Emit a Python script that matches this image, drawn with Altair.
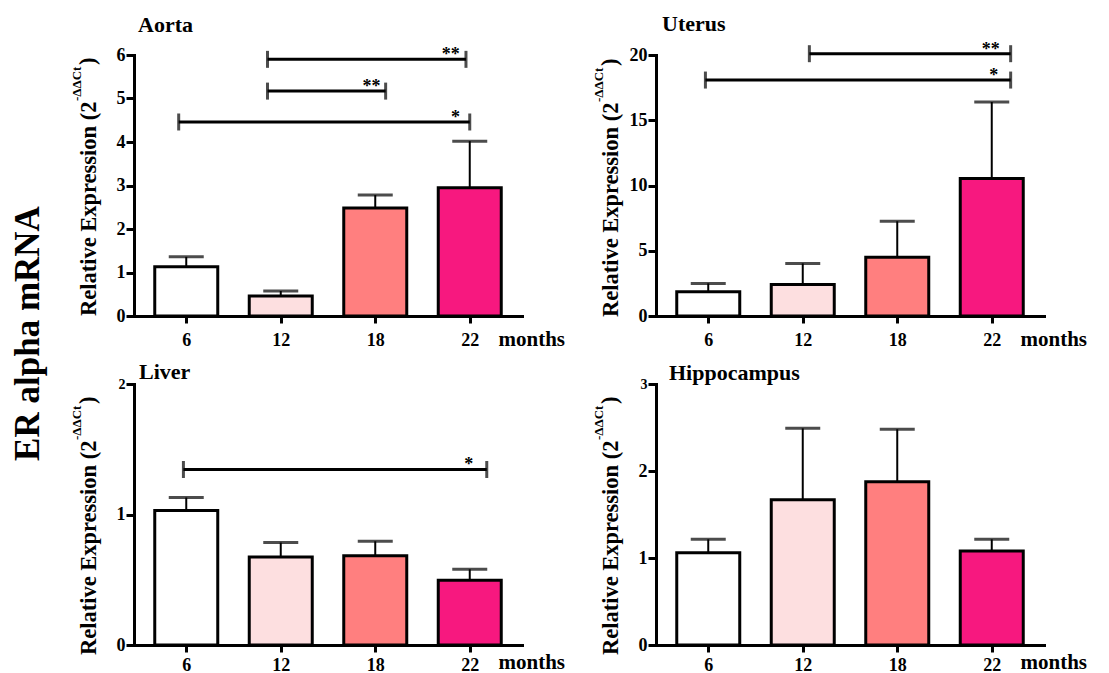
import altair as alt
import pandas as pd

FONT = "Liberation Serif"

months = ["6", "12", "18", "22"]
month_pos = [0.5, 1.5, 2.5, 3.5]
bar_colors = ["#FFFFFF", "#FDDFE0", "#FF7F7F", "#F7187F"]

# Aorta
aorta_mean = [1.13, 0.46, 2.48, 2.95]
aorta_upper = [1.36, 0.575, 2.78, 4.02]
aorta_sig_from = [1.36, 1.36, 0.42]
aorta_sig_to = [3.46, 2.61, 3.50]
aorta_sig_y = [5.90, 5.17, 4.46]
aorta_sig_text = ["**", "**", "*"]
aorta_sig_text_x = [3.30, 2.46, 3.35]

# Uterus
uterus_mean = [1.86, 2.42, 4.51, 10.53]
uterus_upper = [2.50, 4.03, 7.26, 16.40]
uterus_sig_from = [1.57, 0.47]
uterus_sig_to = [3.70, 3.70]
uterus_sig_y = [20.1, 18.08]
uterus_sig_text = ["**", "*"]
uterus_sig_text_x = [3.49, 3.52]

# Liver
liver_mean = [1.03, 0.675, 0.683, 0.497]
liver_upper = [1.13, 0.785, 0.795, 0.58]
liver_sig_from = [0.47]
liver_sig_to = [3.68]
liver_sig_y = [1.345]
liver_sig_text = ["*"]
liver_sig_text_x = [3.49]

# Hippocampus
hippo_mean = [1.06, 1.67, 1.877, 1.08]
hippo_upper = [1.215, 2.49, 2.48, 1.215]

W, H = 388, 261
label_expr = "[" + ",".join("'%s'" % m for m in months) + "][floor(datum.value)]"


def panel(name, mean, upper, ymax, yvals, sig, title_y, title_dx, ytitle_y, small_top,
          xlab_pad, months_y):
    df = pd.DataFrame({"month": months, "pos": month_pos, "mean": mean, "upper": upper})
    xs = alt.Scale(domain=[0, 4], nice=False, zero=False)
    ys = alt.Scale(domain=[0, ymax], nice=False)
    x_axis = alt.Axis(values=month_pos, labelExpr=label_expr, title="months",
                      titleX=W - 24, titleY=months_y, titleAlign="left", titleBaseline="alphabetic",
                      titleFontSize=21, tickSize=7, labelPadding=xlab_pad, labelFontSize=18,
                      labelAngle=0, labelOverlap=False)
    if small_top:
        ylab_size = {"condition": {"test": "datum.value == %s" % ymax, "value": 14}, "value": 18}
    else:
        ylab_size = 18
    y_axis = alt.Axis(values=yvals, format="~g", title="Relative Expression (2",
                      titleAngle=270, titleAlign="right", titleBaseline="middle", titleX=-46,
                      titleY=ytitle_y, titleFontSize=22.5, tickSize=8, labelPadding=1,
                      labelFontSize=ylab_size, labelOverlap=False)

    def X(f):
        return alt.X(f, type="quantitative", scale=xs, axis=x_axis)

    def Y(f):
        return alt.Y(f, type="quantitative", scale=ys, axis=y_axis)

    color = alt.Color("month:N", scale=alt.Scale(domain=months, range=bar_colors), legend=None)
    base = alt.Chart(df)
    bar = base.mark_bar(orient="vertical", width=63, stroke="black", strokeWidth=3).encode(
        x=X("pos"), y=Y("mean"), color=color)
    stem = base.mark_rule(color="black", strokeWidth=2).encode(x=X("pos"), y=Y("mean"), y2="upper")
    cap = base.mark_tick(orient="horizontal", size=35, thickness=3, color="black").encode(
        x=X("pos"), y=Y("upper"))
    layers = [bar, stem, cap]
    if sig is not None:
        sdf = pd.DataFrame({"from": sig[0], "to": sig[1], "y": sig[2], "text": sig[3], "tx": sig[4]})
        sc = alt.Chart(sdf)
        line = sc.mark_rule(color="black", strokeWidth=3).encode(x=X("from"), x2="to", y=Y("y"))
        ends = sc.transform_fold(["from", "to"], as_=["end", "ex"]).mark_tick(
            orient="vertical", size=17, thickness=3, color="black").encode(x=X("ex"), y=Y("y"))
        stars = sc.mark_text(baseline="alphabetic", fontSize=18, dy=1, font=FONT,
                             fontWeight="bold", color="black").encode(x=X("tx"), y=Y("y"), text="text")
        layers += [line, ends, stars]
    sup = alt.Chart(pd.DataFrame({"t": ["-ΔΔCt"]})).mark_text(
        angle=270, align="left", baseline="middle", fontSize=13, font=FONT, fontWeight="bold",
        color="black").encode(x=alt.value(-57), y=alt.value(ytitle_y), text="t")
    paren = alt.Chart(pd.DataFrame({"t": [")"]})).mark_text(
        angle=270, align="left", baseline="middle", fontSize=22.5, font=FONT, fontWeight="bold",
        color="black").encode(x=alt.value(-46), y=alt.value(ytitle_y - 36), text="t")
    name_txt = alt.Chart(pd.DataFrame({"t": [name]})).mark_text(
        align="left", baseline="alphabetic", fontSize=22, font=FONT, fontWeight="bold",
        color="black").encode(x=alt.value(title_dx), y=alt.value(title_y), text="t")
    layers += [sup, paren, name_txt]
    return alt.layer(*layers).properties(width=W, height=H)


aorta = panel("Aorta", aorta_mean, aorta_upper, 6, [0, 1, 2, 3, 4, 5, 6],
              (aorta_sig_from, aorta_sig_to, aorta_sig_y, aorta_sig_text, aorta_sig_text_x),
              -23, 4, 46, False, 8, 29)
uterus = panel("Uterus", uterus_mean, uterus_upper, 20, [0, 5, 10, 15, 20],
               (uterus_sig_from, uterus_sig_to, uterus_sig_y, uterus_sig_text, uterus_sig_text_x),
               -24, 6, 47, False, 8, 29)
liver = panel("Liver", liver_mean, liver_upper, 2, [0, 1, 2],
              (liver_sig_from, liver_sig_to, liver_sig_y, liver_sig_text, liver_sig_text_x),
              -5, 5, 56, True, 4, 23)
hippo = panel("Hippocampus", hippo_mean, hippo_upper, 3, [0, 1, 2, 3], None, -4, 13, 56, True,
              4, 23)

chart = alt.concat(
    aorta, uterus, liver, hippo, columns=2, spacing={"row": 68, "column": 134}, bounds="flush",
    title=alt.TitleParams(text="ER alpha mRNA", orient="left", anchor="middle", fontSize=35,
                          font=FONT, fontWeight="bold", offset=25, dx=10),
).properties(
    padding={"left": 10, "top": 13, "right": 5, "bottom": 5}
).configure_axis(
    domainColor="black", domainWidth=3, domainCap="square", tickColor="black", tickWidth=3,
    labelColor="black", labelFont=FONT, labelFontWeight="bold", titleFont=FONT,
    titleFontWeight="bold", titleColor="black", grid=False,
).configure_view(stroke=None).configure_title(font=FONT, fontWeight="bold", color="black")

chart.save("out.html", embed_options={"renderer": "svg", "actions": False})
